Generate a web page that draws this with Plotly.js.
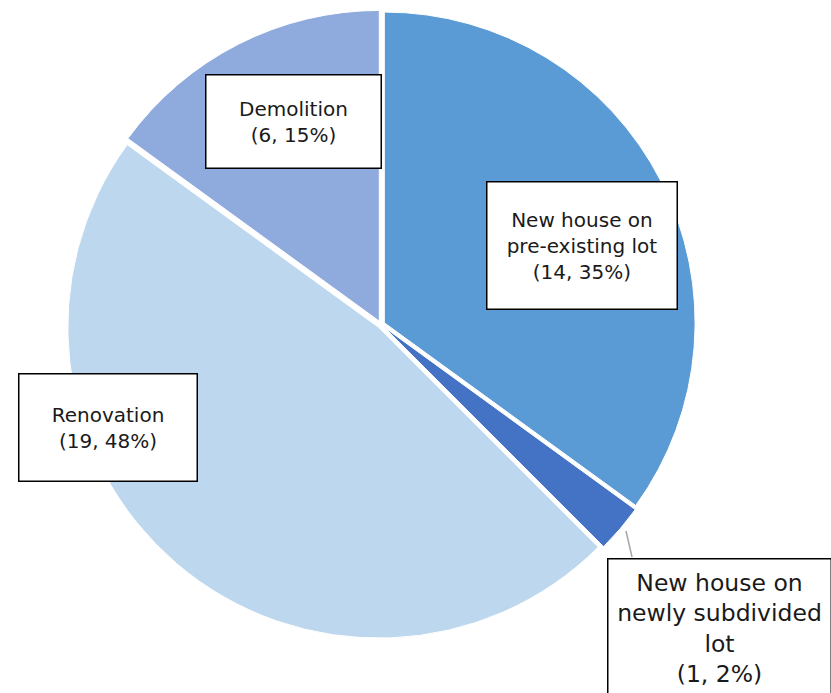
<!DOCTYPE html>
<html><head><meta charset="utf-8">
<script src="https://cdn.plot.ly/plotly-3.0.1.min.js"></script>
<style>html,body{margin:0;padding:0;background:#fff}</style>
</head><body>
<div id="chart" style="width:831px;height:693px"></div>
<script>
const categories = ["New house on pre-existing lot", "New house on newly subdivided lot", "Renovation", "Demolition"];
const counts = [14, 1, 19, 6];
const percents = [35, 2, 48, 15];
const labelTexts = [
  "New house on<br>pre-existing lot<br>(14, 35%)",
  "New house on<br>newly subdivided<br>lot<br>(1, 2%)",
  "Renovation<br>(19, 48%)",
  "Demolition<br>(6, 15%)"
];
const colors = ["#5B9BD5", "#4472C4", "#BDD7EE", "#8FAADC"];

const W = 831, H = 693;
const px = x => x / W;
const py = y => 1 - y / H;

const trace = {
  type: "pie",
  labels: categories,
  values: counts,
  sort: false,
  direction: "clockwise",
  rotation: 0,
  textinfo: "none",
  hoverinfo: "label+value+percent",
  pull: [0.012, 0.012, 0.012, 0.012],
  marker: { colors: colors, line: { color: "#ffffff", width: 1 } },
  domain: { x: [px(65), px(697)], y: [py(639), py(10)] },
  showlegend: false
};

const boxes = [
  { cx: 582, cy: 245, w: 189, h: 126, size: 20 },
  { cx: 719, cy: 628, w: 222, h: 138, size: 23.5 },
  { cx: 108, cy: 427, w: 177, h: 106, size: 20 },
  { cx: 293, cy: 121, w: 174, h: 92, size: 20 }
];

const annotations = boxes.map((b, i) => ({
  xref: "paper", yref: "paper",
  x: px(b.cx), y: py(b.cy),
  xanchor: "center", yanchor: "middle",
  text: labelTexts[i],
  showarrow: false,
  width: b.w, height: b.h,
  align: "center", valign: "middle",
  bgcolor: "#ffffff",
  bordercolor: "#000000",
  borderwidth: 1.5,
  borderpad: 0,
  font: { family: "DejaVu Sans, Liberation Sans, sans-serif", size: b.size, color: "#1a1a1a" }
}));

const layout = {
  width: W, height: H,
  margin: { l: 0, r: 0, t: 0, b: 0 },
  paper_bgcolor: "#ffffff",
  annotations: annotations,
  shapes: [{
    type: "line", xref: "paper", yref: "paper",
    x0: px(626), y0: py(531), x1: px(632), y1: py(557),
    line: { color: "#a6a6a6", width: 1.5 }
  }]
};

Plotly.newPlot("chart", [trace], layout, { displayModeBar: false, staticPlot: true });
</script>
</body></html>
